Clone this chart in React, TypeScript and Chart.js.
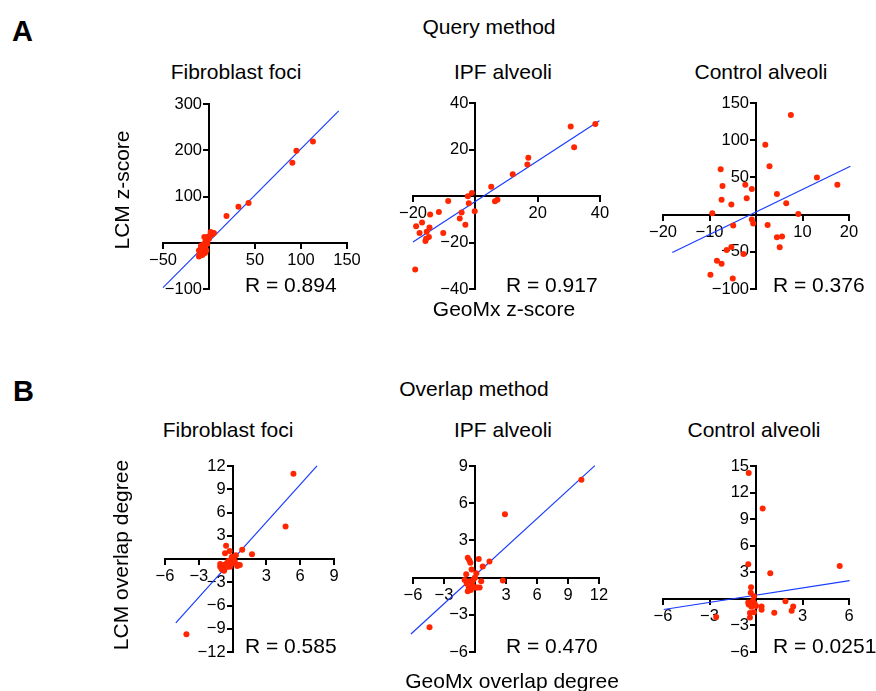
import React, { useEffect, useRef } from 'react';
import { Chart, registerables } from 'chart.js';
Chart.register(...registerables);

// ---------- Data ----------
const SECTION_LABELS = ['A', 'B'];
const METHOD_TITLES = ['Query method', 'Overlap method'];
const PANEL_TITLES = ['Fibroblast foci', 'IPF alveoli', 'Control alveoli'];
const Y_TITLES = ['LCM z-score', 'LCM overlap degree'];
const X_TITLES = ['GeoMx z-score', 'GeoMx overlap degree'];
const R_LABELS = ['R = 0.894', 'R = 0.917', 'R = 0.376', 'R = 0.585', 'R = 0.470', 'R = 0.0251'];

// Query method – Fibroblast foci
const A1_X = [113, 95, 90.6, 43, 32, 19, 1.8, 5.4, 3.6, -0.7, -2.5, -3.6, -4.3, -6.5, -4.3, -7.2, -9.1, -6.2, -10.9, -8, -4.3, -10.1, -7.2, -10.9, -5.4, -1.8, -2.9, -8.7, -5.1, 0];
const A1_Y = [219, 199, 173, 86, 78, 58, 23, 20.9, 18, 13.7, 8.6, 3.6, -0.7, -3.6, -7.9, -10.8, -13.7, -15.1, -16.5, -20.1, -22.3, -23.7, -26.6, -29.5, -9.4, -2.2, -16.5, -6.5, 12.2, 8.6];
// Query method – IPF alveoli
const A2_X = [38.5, 30.6, 31.7, 17, 16.7, 12, 5.1, 7.1, 6.3, -1.1, -2.4, -2.1, -0.2, -8.7, -11.7, -14.5, -17.1, -19, -4.4, -5, -3.2, -14.7, -17.9, -15.6, -10.3, -14.9, -15.8, -16, -19.3];
const A2_Y = [31, 29.9, 21, 16.4, 13.6, 9.4, 4, -1.6, -2.3, 1.3, -0.1, -3.1, -6.6, -2.1, -6.9, -8, -11.4, -13, -7.1, -9.7, -12.4, -13.6, -15.9, -15.4, -15.9, -17.6, -18.4, -19.4, -31.6];
// Query method – Control alveoli
const A3_X = [7.5, 2, 2.9, -7.6, -7.2, -2.3, -0.9, -2, -7.4, -5.3, 4.5, 6.5, 13.1, 17.5, 9.1, -9.4, -0.9, -0.6, -4.9, 2.5, 4.5, 5.6, 5.1, -5.3, -6.3, -2.7, -8.4, -7.4, -9.8, -5];
const A3_Y = [134, 94, 65, 61, 38.6, 40, 34.5, 22, 20, 13.5, 27.8, 15.2, 50, 40, 0.9, 1.8, -6.7, -12, -14.8, -13.9, -30.5, -29.6, -44, -43.5, -47.5, -53, -62, -66, -81, -86];
// Overlap method – Fibroblast foci
const B1_X = [5.4, 4.7, -4.1, 0.85, 1.72, -0.58, -0.26, -0.67, 0.29, -0.09, -0.38, 0.06, 0.5, -0.8, -1.1, -0.67, -0.96, -0.23, 0.2, -0.52, 0.41, 0.64, -1.1, -0.76, -0.3, 0.1, -0.45, -0.05];
const B1_Y = [11, 4.2, -9.7, 1.2, 0.6, 1.7, 1.03, 0.73, 0.47, 0.09, -0.26, -0.56, -0.77, -0.77, -0.99, -1.2, -1.33, -0.99, -0.34, -0.56, -0.9, -0.77, -0.64, -1.5, -0.5, -0.1, -1.0, 0.3];
// Overlap method – IPF alveoli
const B2_X = [10.3, 2.9, 1.4, 0.75, 0.36, -0.7, -0.55, -0.45, -0.33, 0.13, -0.85, 2.7, 0.6, -0.13, -1.0, -0.8, -0.6, -0.4, -0.2, 0.2, 0.45, 0.07, -0.7, -0.5, -4.4, 0.0, -0.3];
const B2_Y = [7.9, 5.1, 1.3, 0.9, 1.5, 1.6, 1.4, 1.2, 0.65, 0.35, 0.27, -0.24, -0.3, -0.16, -0.2, -0.5, -0.8, -1.0, -0.7, -0.8, -0.8, -0.8, -1.1, -0.3, -4.0, 0.0, -0.4];
// Overlap method – Control alveoli
const B3_X = [-0.47, 0.43, -0.5, 0.92, 5.4, -0.32, -0.34, -0.13, 1.9, 2.4, 2.3, 1.18, 0.36, 0.36, -0.47, -0.39, -0.39, -0.13, -0.1, 0.0, -0.3, -2.57, -0.5, -0.2];
const B3_Y = [14.2, 10.2, 3.9, 2.9, 3.7, 1.3, 0.7, 0.3, -0.26, -0.86, -1.35, -1.57, -0.86, -1.24, -0.64, -1.6, -2.1, -1.5, -0.5, -0.8, -0.9, -2.06, -0.4, -0.2];

const PANEL_X = [A1_X, A2_X, A3_X, B1_X, B2_X, B3_X];
const PANEL_Y = [A1_Y, A2_Y, A3_Y, B1_Y, B2_Y, B3_Y];

// Regression fits
const FIT_SLOPE = [2.0, 0.873, 3.03, 1.617, 0.763, 0.272];
const FIT_INTERCEPT = [3, -2.35, 3.5, -0.09, 0.18, 0.42];
const FIT_X_START = [-50, -20, -18, -5.04, -6.2, -5.95];
const FIT_X_END = [141, 39.8, 20.3, 7.49, 11.6, 6.04];

// Axis ranges / ticks
const X_MIN = [-50, -20, -20, -6, -6, -6];
const X_MAX = [150, 40, 20, 9, 12, 6];
const X_STEP = [50, 20, 10, 3, 3, 3];
const Y_MIN = [-100, -40, -100, -12, -6, -6];
const Y_MAX = [300, 40, 150, 12, 9, 15];
const Y_STEP = [100, 20, 50, 3, 3, 3];

// ---------- Layout ----------
const FONT = "'Liberation Sans', Arial, Helvetica, sans-serif";
const RED = 'rgb(255, 38, 0)';
const BLUE = 'rgb(25, 60, 255)';
const PAD = 40;
const TICK_FONT = 16.5;
const Y_LABEL_GAP = 7;
const X_LABEL_SHIFT = 0;
const BOXES = [
  { l: 163, r: 347, t: 104, b: 289 },
  { l: 413, r: 600, t: 103, b: 289 },
  { l: 663, r: 849, t: 103, b: 289 },
  { l: 165, r: 334, t: 466, b: 652 },
  { l: 413, r: 599, t: 466, b: 652 },
  { l: 663, r: 849, t: 466, b: 652 },
];

const fmt = (v: number) => (v === 0 ? '' : v < 0 ? '\u2212' + Math.abs(v) : String(v));

function Panel({ i }: { i: number }) {
  const ref = useRef<HTMLCanvasElement | null>(null);
  const box = BOXES[i];
  const w = box.r - box.l + 2 * PAD;
  const h = box.b - box.t + 2 * PAD;

  useEffect(() => {
    if (!ref.current) return;
    const pts = PANEL_X[i].map((x, k) => ({ x, y: PANEL_Y[i][k] }));
    const line = [FIT_X_START[i], FIT_X_END[i]].map((x) => ({ x, y: FIT_SLOPE[i] * x + FIT_INTERCEPT[i] }));
    const zero = (s: any) => {
      const horiz = s.isHorizontal();
      if (horiz) s.height = 0;
      else s.width = 0;
      s.paddingLeft = 0; s.paddingRight = 0; s.paddingTop = 0; s.paddingBottom = 0;
      if (!s.__patched && typeof s._computeLabelItems === 'function') {
        s.__patched = true;
        const orig = s._computeLabelItems.bind(s);
        s._computeLabelItems = (area: any) => {
          const items = orig(area);
          items.forEach((it: any) => {
            const tr = it && it.options && it.options.translation;
            if (Array.isArray(tr)) {
              if (horiz) tr[1] += X_LABEL_SHIFT;
              else { tr[0] -= Y_LABEL_GAP; it.options.textAlign = 'right'; }
            }
          });
          return items;
        };
      }
    };
    const axis = (min: number, max: number, step: number, padding: number) => ({
      type: 'linear' as const,
      min, max,
      afterFit: zero,
      border: { display: true, color: '#000', width: 2 },
      grid: { display: true, drawOnChartArea: false, drawTicks: true, tickLength: 5, color: '#000', lineWidth: 2 },
      ticks: {
        stepSize: step,
        autoSkip: false,
        maxRotation: 0,
        padding,
        color: '#000',
        font: { family: FONT, size: TICK_FONT },
        callback: (v: any) => fmt(Number(v)),
      },
    });
    const chart = new Chart(ref.current, {
      type: 'scatter',
      data: {
        datasets: [
          { data: pts, backgroundColor: RED, borderWidth: 0, pointRadius: 3, pointHoverRadius: 3, clip: false } as any,
          { data: line, showLine: true, borderColor: BLUE, borderWidth: 1.2, pointRadius: 0, fill: false, clip: false } as any,
        ],
      },
      options: {
        animation: false,
        responsive: false,
        devicePixelRatio: 1,
        events: [],
        layout: { padding: { left: PAD, right: PAD, top: PAD, bottom: PAD } },
        plugins: { legend: { display: false }, tooltip: { enabled: false }, title: { display: false } },
        scales: {
          x: { ...axis(X_MIN[i], X_MAX[i], X_STEP[i], 3), position: { y: 0 } } as any,
          y: { ...axis(Y_MIN[i], Y_MAX[i], Y_STEP[i], 2), position: { x: 0 } } as any,
        },
      },
    });
    return () => chart.destroy();
  }, [i]);

  return (
    <canvas
      ref={ref}
      width={w}
      height={h}
      style={{ position: 'absolute', left: box.l - PAD, top: box.t - PAD, width: w, height: h }}
    />
  );
}

function Txt({ x, y, children, size = 21, bold = false, align = 'center', rotate = false }: any) {
  const tx = align === 'center' ? '-50%' : '0';
  return (
    <div
      style={{
        position: 'absolute',
        left: x,
        top: y,
        transform: `translate(${tx}, -50%)${rotate ? ' rotate(-90deg)' : ''}`,
        transformOrigin: rotate ? '50% 50%' : undefined,
        fontFamily: FONT,
        fontSize: size,
        fontWeight: bold ? 'bold' : 'normal',
        lineHeight: 1,
        whiteSpace: 'nowrap',
        color: '#000',
      }}
    >
      {children}
    </div>
  );
}

export default function App() {
  const titleXA = [236, 503, 761];
  const titleXB = [228, 503, 754];
  const rX = [245, 506, 773];
  return (
    <div style={{ position: 'absolute', left: 0, top: 0, width: 876, height: 691, background: '#fff', overflow: 'hidden' }}>
      <Txt x={12} y={31} size={29} bold align="left">{SECTION_LABELS[0]}</Txt>
      <Txt x={13} y={391} size={29} bold align="left">{SECTION_LABELS[1]}</Txt>
      <Txt x={489} y={26}>{METHOD_TITLES[0]}</Txt>
      <Txt x={474} y={388}>{METHOD_TITLES[1]}</Txt>
      {PANEL_TITLES.map((t, k) => (
        <Txt key={'ta' + k} x={titleXA[k]} y={71}>{t}</Txt>
      ))}
      {PANEL_TITLES.map((t, k) => (
        <Txt key={'tb' + k} x={titleXB[k]} y={429}>{t}</Txt>
      ))}
      {[0, 1, 2, 3, 4, 5].map((k) => (
        <Panel key={'p' + k} i={k} />
      ))}
      {R_LABELS.map((t, k) => (
        <Txt key={'r' + k} x={rX[k % 3]} y={k < 3 ? 284 : 645} align="left">{t}</Txt>
      ))}
      <Txt x={121} y={190} rotate>{Y_TITLES[0]}</Txt>
      <Txt x={120} y={555} rotate>{Y_TITLES[1]}</Txt>
      <Txt x={504} y={308}>{X_TITLES[0]}</Txt>
      <Txt x={512} y={680}>{X_TITLES[1]}</Txt>
    </div>
  );
}
